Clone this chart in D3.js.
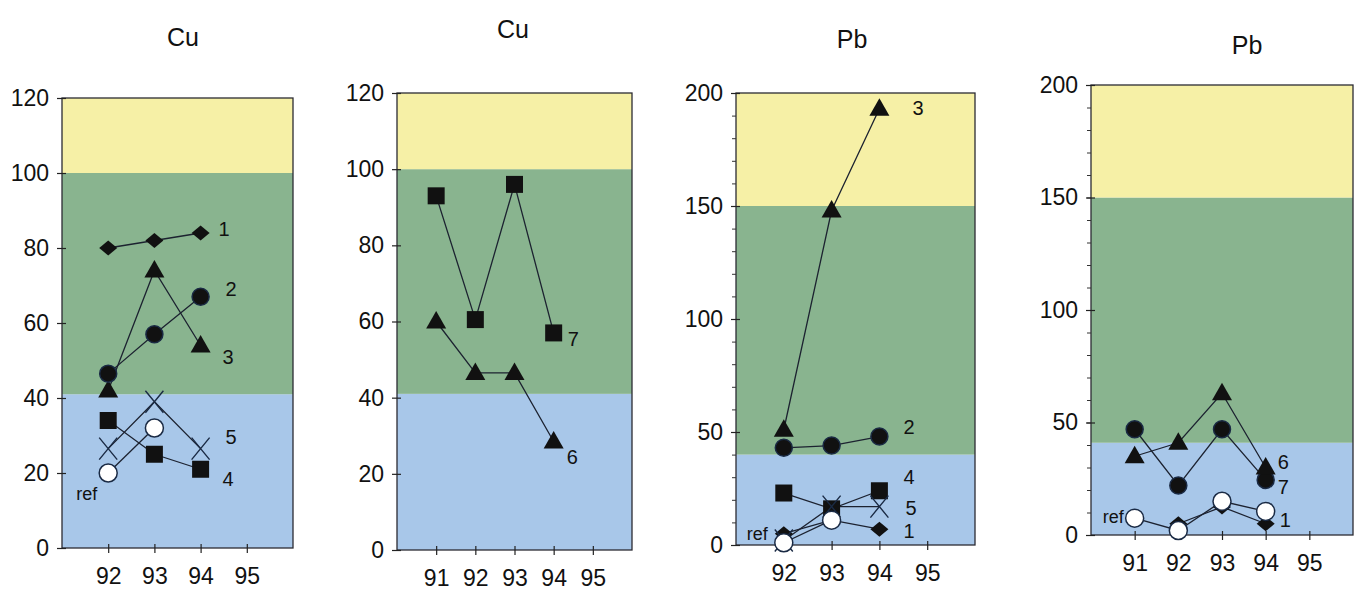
<!DOCTYPE html>
<html>
<head>
<meta charset="utf-8">
<script src="https://cdn.jsdelivr.net/npm/d3@7"></script>
<style>
  body { margin: 0; background: #ffffff; }
  svg text { font-family: "Liberation Sans", Arial, sans-serif; fill: #111; }
</style>
</head>
<body>
<div id="chart"></div>
<script>
// ---- data ----
const titles = ["Cu", "Cu", "Pb", "Pb"];

// panel 1: Cu, 92-94
const cuA_years = [92, 93, 94];
const cuA_s1 = [80, 82, 84];        // diamonds
const cuA_s2 = [46.5, 57, 67];      // filled circles
const cuA_s3 = [42, 74, 54];        // triangles
const cuA_s4 = [34, 25, 21];        // squares
const cuA_s5 = [26.5, 39, 26.5];    // crosses
const cuA_ref = [20, 32];           // open circles, 92-93 only

// panel 2: Cu, 91-94
const cuB_years = [91, 92, 93, 94];
const cuB_s6 = [60, 46.5, 46.5, 28.5];
const cuB_s7 = [93, 60.5, 96, 57];

// panel 3: Pb, 92-94
const pbA_years = [92, 93, 94];
const pbA_s1 = [5, 11, 7];
const pbA_s2 = [43, 44, 48];
const pbA_s3 = [51, 148, 193];
const pbA_s4 = [23, 16, 24];
const pbA_s5 = [2, 17, 17];
const pbA_ref = [1, 11];

// panel 4: Pb, 91-94
const pbB_years = [91, 92, 93, 94];
const pbB_s6 = [35, 41, 63, 30];
const pbB_s7 = [47, 22, 47, 24.5];
const pbB_s1 = [null, 5, 12.5, 5];
const pbB_ref = [7.5, 2, 15, 10.5];

// axes
const yTicksCu = [0, 20, 40, 60, 80, 100, 120];
const yTicksPb = [0, 50, 100, 150, 200];
const xTicksA = [92, 93, 94, 95];
const xTicksB = [91, 92, 93, 94, 95];

// background classes: blue / green / yellow limits
const bandsCu = [0, 41, 100, 120];
const bandsPbA = [0, 40, 150, 200];
const bandsPbB = [0, 41, 150, 200];
const bandColors = ["#a8c7e9", "#89b48f", "#f6f0a6"];

// series labels: [text, year, value]
const cuA_labels = [["1", 94, 85], ["2", 94, 69], ["3", 94, 51], ["5", 94, 29.5], ["4", 94, 18.5]];
const cuB_labels = [["7", 94, 55.5], ["6", 94, 24.5]];
const pbA_labels = [["3", 94, 193.5], ["2", 94, 52], ["4", 94, 30], ["5", 94, 16.5], ["1", 94, 6]];
const pbB_labels = [["6", 94, 32.5], ["7", 94, 21.5], ["1", 94, 6.5]];
const refLabels = [[92, 14.5], null, [92, 5], [91, 8]];

// ---- layout ----
const width = 1365, height = 592;
const svg = d3.select("#chart").append("svg")
    .attr("width", width)
    .attr("height", height);

const panels = [
  { box: [62, 293, 98, 548], xd: [91, 96], yd: [0, 120], yTicks: yTicksCu, minor: null,
    xTicks: xTicksA, bands: bandsCu, title: [183, 37], lblDx: [18, 25, 22, 25, 22], refDx: -11,
    series: [
      { years: cuA_years, vals: cuA_s5, sym: "cross" },
      { years: cuA_years, vals: cuA_ref, sym: "open" },
      { years: cuA_years, vals: cuA_s4, sym: "square" },
      { years: cuA_years, vals: cuA_s3, sym: "triangle" },
      { years: cuA_years, vals: cuA_s2, sym: "circle" },
      { years: cuA_years, vals: cuA_s1, sym: "diamond" }
    ], labels: cuA_labels },
  { box: [397, 632, 93, 550], xd: [90, 96], yd: [0, 120], yTicks: yTicksCu, minor: null,
    xTicks: xTicksB, bands: bandsCu, title: [513, 29], lblDx: [14, 13], refDx: 0,
    series: [
      { years: cuB_years, vals: cuB_s6, sym: "triangle" },
      { years: cuB_years, vals: cuB_s7, sym: "square" }
    ], labels: cuB_labels },
  { box: [736, 975, 93, 545], xd: [91, 96], yd: [0, 200], yTicks: yTicksPb, minor: 10,
    xTicks: xTicksA, bands: bandsPbA, title: [852, 39], lblDx: [33, 24, 24, 26, 24], refDx: -16,
    series: [
      { years: pbA_years, vals: pbA_s3, sym: "triangle" },
      { years: pbA_years, vals: pbA_s2, sym: "circle" },
      { years: pbA_years, vals: pbA_s1, sym: "diamond" },
      { years: pbA_years, vals: pbA_s4, sym: "square" },
      { years: pbA_years, vals: pbA_s5, sym: "cross" },
      { years: pbA_years, vals: pbA_ref, sym: "open" }
    ], labels: pbA_labels },
  { box: [1091, 1353, 85, 535], xd: [90, 96], yd: [0, 200], yTicks: yTicksPb, minor: 10,
    xTicks: xTicksB, bands: bandsPbB, title: [1247, 45], lblDx: [12, 12, 14], refDx: -11,
    series: [
      { years: pbB_years, vals: pbB_s1, sym: "diamond" },
      { years: pbB_years, vals: pbB_ref, sym: "open" },
      { years: pbB_years, vals: pbB_s7, sym: "circle" },
      { years: pbB_years, vals: pbB_s6, sym: "triangle" }
    ], labels: pbB_labels }
];

// marker shapes
const shapes = {
  diamond: "M0,-7.5L9,0L0,7.5L-9,0Z",
  triangle: "M0,-10.5L10,7L-10,7Z",
  square: "M-8.5,-8.5H8.5V8.5H-8.5Z",
  cross: "M-9,-11L9,11M-9,11L9,-11"
};

function drawMarker(g, sym, cx, cy) {
  if (sym === "circle" || sym === "open") {
    g.append("circle")
      .attr("cx", cx).attr("cy", cy)
      .attr("r", sym === "open" ? 9 : 8.5)
      .attr("fill", sym === "open" ? "#ffffff" : "#111")
      .attr("stroke", "#1a2a44")
      .attr("stroke-width", 1.5);
  } else if (sym === "cross") {
    g.append("path")
      .attr("d", shapes.cross)
      .attr("transform", `translate(${cx},${cy})`)
      .attr("fill", "none")
      .attr("stroke", "#1a2a44")
      .attr("stroke-width", 1.4);
  } else {
    g.append("path")
      .attr("d", shapes[sym])
      .attr("transform", `translate(${cx},${cy})`)
      .attr("fill", "#111");
  }
}

panels.forEach((p, i) => {
  const [x0, x1, y0, y1] = p.box;
  const x = d3.scaleLinear().domain(p.xd).range([x0, x1]);
  const y = d3.scaleLinear().domain(p.yd).range([y1, y0]);
  const g = svg.append("g");

  // coloured classes
  for (let b = 0; b < 3; b++) {
    g.append("rect")
      .attr("x", x0)
      .attr("y", y(p.bands[b + 1]))
      .attr("width", x1 - x0)
      .attr("height", y(p.bands[b]) - y(p.bands[b + 1]))
      .attr("fill", bandColors[b]);
  }

  // frame
  g.append("rect")
    .attr("x", x0).attr("y", y0)
    .attr("width", x1 - x0).attr("height", y1 - y0)
    .attr("fill", "none")
    .attr("stroke", "#2b2b33")
    .attr("stroke-width", 1.3);

  // minor ticks
  if (p.minor) {
    const minorAxis = g.append("g")
      .attr("transform", `translate(${x0},0)`)
      .call(d3.axisLeft(y).tickValues(d3.range(p.yd[0], p.yd[1] + 1, p.minor)).tickSize(4).tickFormat(""));
    minorAxis.select(".domain").remove();
    minorAxis.selectAll("line").attr("stroke", "#333");
  }

  // y axis
  const yAxis = g.append("g")
    .attr("transform", `translate(${x0},0)`)
    .call(d3.axisLeft(y).tickValues(p.yTicks).tickSize(5).tickPadding(8));
  yAxis.select(".domain").remove();
  yAxis.selectAll("line").attr("x1", 4).attr("stroke", "#222").attr("stroke-width", 1.2);
  yAxis.selectAll("text").style("font-size", "23px");

  // x axis
  const xAxis = g.append("g")
    .attr("transform", `translate(0,${y1})`)
    .call(d3.axisBottom(x).tickValues(p.xTicks).tickFormat(d3.format("d")).tickSize(5).tickPadding(15));
  xAxis.select(".domain").remove();
  xAxis.selectAll("line").attr("y1", -4).attr("stroke", "#222").attr("stroke-width", 1.2);
  xAxis.selectAll("text").style("font-size", "23px");

  // title
  g.append("text")
    .attr("x", p.title[0]).attr("y", p.title[1])
    .attr("text-anchor", "middle")
    .attr("dy", "0.35em")
    .style("font-size", "25px")
    .text(titles[i]);

  // lines
  const line = d3.line()
    .defined(d => d[1] != null)
    .x(d => x(d[0]))
    .y(d => y(d[1]));

  p.series.forEach(s => {
    const pts = s.years.map((yr, k) => [yr, s.vals[k]])
      .filter(d => d[1] !== undefined);
    g.append("path")
      .datum(pts)
      .attr("d", line)
      .attr("fill", "none")
      .attr("stroke", "#1c2230")
      .attr("stroke-width", 1.3);
  });

  // markers
  p.series.forEach(s => {
    s.years.forEach((yr, k) => {
      const v = s.vals[k];
      if (v == null) return;
      drawMarker(g, s.sym, x(yr), y(v));
    });
  });

  // series labels
  p.labels.forEach((l, k) => {
    g.append("text")
      .attr("x", x(l[1]) + p.lblDx[k])
      .attr("y", y(l[2]))
      .attr("dy", "0.35em")
      .style("font-size", "20px")
      .text(l[0]);
  });

  if (refLabels[i]) {
    g.append("text")
      .attr("x", x(refLabels[i][0]) + p.refDx)
      .attr("y", y(refLabels[i][1]))
      .attr("dy", "0.35em")
      .attr("text-anchor", "end")
      .style("font-size", "18px")
      .text("ref");
  }
});
</script>
</body>
</html>
